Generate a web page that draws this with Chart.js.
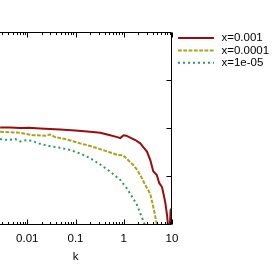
<!DOCTYPE html>
<html>
<head>
<meta charset="utf-8">
<script src="https://cdn.jsdelivr.net/npm/chart.js@4/dist/chart.umd.min.js"></script>
<style>
html,body{margin:0;padding:0;background:#fff;overflow:hidden;}
#wrap{position:absolute;left:-21px;top:0;width:296px;height:265px;}
</style>
</head>
<body>
<div id="wrap"><canvas id="chart" width="296" height="265"></canvas></div>
<script>
// x = 0.001
const kRed = [0.00274,0.00442,0.00713,0.0109,0.0185,0.0299,0.0482,0.0986,0.202,0.325,0.525,0.733,0.846,0.99,1.127,1.364,1.732,2.2,2.54,3.03,3.55,4.09,4.84,5.45,6.21,6.76,7.27,7.88,8.38,9.0,9.35,10];
const yRed = [2.01,2.01,2.0,2.006,1.99,1.98,1.97,1.95,1.92,1.90,1.85,1.81,1.79,1.85,1.84,1.80,1.75,1.68,1.60,1.51,1.33,1.10,1.02,0.85,0.77,0.60,0.44,0.19,-0.08,-0.08,0.29,0.33];
// x = 0.0001
const kOlive = [0.00274,0.00442,0.00713,0.01325,0.0235,0.0299,0.0379,0.0611,0.125,0.202,0.325,0.525,0.733,0.976,1.24,1.574,1.905,2.307,2.793,3.55,4.15,4.66,5.08];
const yOlive = [1.92,1.91,1.90,1.85,1.84,1.865,1.81,1.77,1.68,1.625,1.56,1.49,1.44,1.43,1.33,1.23,1.125,0.98,0.81,0.625,0.33,0.08,-0.08];
// x = 1e-05
const kGreen = [0.00274,0.00402,0.00562,0.00713,0.00995,0.0126,0.0185,0.0299,0.0482,0.0776,0.125,0.202,0.325,0.525,0.846,1.165,1.479,1.879,2.2,2.575,2.8];
const yGreen = [1.77,1.75,1.77,1.72,1.75,1.73,1.67,1.62,1.59,1.54,1.47,1.37,1.24,1.09,0.92,0.74,0.57,0.40,0.22,0.05,-0.05];

const seriesLabels = ["x=0.001","x=0.0001","x=1e-05"];
const seriesColors = ["#960f0f","#aaa21e","#2a9a60"];
const seriesDash = [[],[3.8,1.5],[2,3]];
// 0.001 sits on the hidden left edge, so only these are labelled
const xTickLabels = ["0.01","0.1","1","10"];
const yTickValues = [1,2,3];

Chart.defaults.font.family = '"Liberation Sans", Arial, sans-serif';
Chart.defaults.font.size = 11.5;
Chart.defaults.color = "#000";

function pairs(xs, ys){
    return xs.map((x,i)=>({x:x, y:ys[i]}));
}

// gnuplot-like frame with inward ticks, and the key
const framePlugin = {
    id:"frame",
    afterDraw(chart){
        const ctx = chart.ctx;
        const a = chart.chartArea;
        const xs = chart.scales.x, ys = chart.scales.y;
        const top = Math.round(a.top)+0.5, bot = Math.round(a.bottom)+0.5;
        const right = Math.round(a.right)-0.5, left = Math.round(a.left)+0.5;
        ctx.save();
        ctx.strokeStyle = "#000";
        ctx.lineWidth = 1;
        ctx.setLineDash([]);
        ctx.beginPath();
        ctx.moveTo(left, top); ctx.lineTo(right, top);
        ctx.lineTo(right, bot); ctx.lineTo(left, bot);
        ctx.lineTo(left, top);
        ctx.stroke();

        ctx.beginPath();
        for(let e=-3; e<=1; e++){
            for(let m=1; m<=9; m++){
                const v = m*Math.pow(10,e);
                if(v < xs.min*0.999 || v > xs.max*1.001) continue;
                const px = Math.round(xs.getPixelForValue(v))+0.5;
                const len = m===1 ? 5 : 2.5;
                ctx.moveTo(px, bot); ctx.lineTo(px, bot-len);
                ctx.moveTo(px, top); ctx.lineTo(px, top+len);
            }
        }
        yTickValues.forEach(v=>{
            const py = Math.round(ys.getPixelForValue(v))+0.5;
            ctx.moveTo(right, py); ctx.lineTo(right-5, py);
            ctx.moveTo(left, py); ctx.lineTo(left+5, py);
        });
        ctx.stroke();

        // key
        const x0 = right + 6.5, x1 = x0 + 36, tx = x1 + 7.5;
        ctx.font = '11.5px "Liberation Sans", Arial, sans-serif';
        ctx.textBaseline = "middle";
        ctx.fillStyle = "#000";
        chart.data.datasets.forEach((ds,i)=>{
            const y = 38 + i*12.4;
            ctx.strokeStyle = ds.borderColor;
            ctx.lineWidth = ds.borderWidth;
            ctx.setLineDash(ds.borderDash || []);
            ctx.beginPath();
            ctx.moveTo(x0, y); ctx.lineTo(x1, y);
            ctx.stroke();
            ctx.fillText(ds.label, tx, y);
        });
        ctx.restore();
    }
};

new Chart(document.getElementById("chart"),{
    type:"line",
    data:{
        datasets:[
            {label:seriesLabels[0], data:pairs(kRed,yRed), borderColor:seriesColors[0], borderDash:seriesDash[0]},
            {label:seriesLabels[1], data:pairs(kOlive,yOlive), borderColor:seriesColors[1], borderDash:seriesDash[1]},
            {label:seriesLabels[2], data:pairs(kGreen,yGreen), borderColor:seriesColors[2], borderDash:seriesDash[2]}
        ].map(d=>Object.assign(d,{borderWidth:2, pointRadius:0, tension:0, fill:false, clip:0}))
    },
    options:{
        responsive:false,
        animation:false,
        events:[],
        devicePixelRatio:1,
        layout:{padding:{left:0, top:32, right:103, bottom:0}},
        plugins:{legend:{display:false}, tooltip:{enabled:false}},
        scales:{
            x:{
                type:"logarithmic",
                min:0.001, max:10,
                grid:{display:false, drawTicks:false},
                border:{display:false},
                ticks:{
                    autoSkip:false, maxRotation:0, padding:8,
                    callback:(v)=>{
                        const t = xTickLabels.find(s=>Math.abs(Math.log10(+s)-Math.log10(v))<1e-6);
                        return t || "";
                    }
                },
                title:{display:true, text:"k", padding:{top:0, bottom:1}},
                afterFit:(s)=>{ s.height = 41; s.paddingLeft = 0; s.paddingRight = 0; }
            },
            y:{
                display:false,
                min:0, max:4
            }
        }
    },
    plugins:[framePlugin]
});
</script>
</body>
</html>
